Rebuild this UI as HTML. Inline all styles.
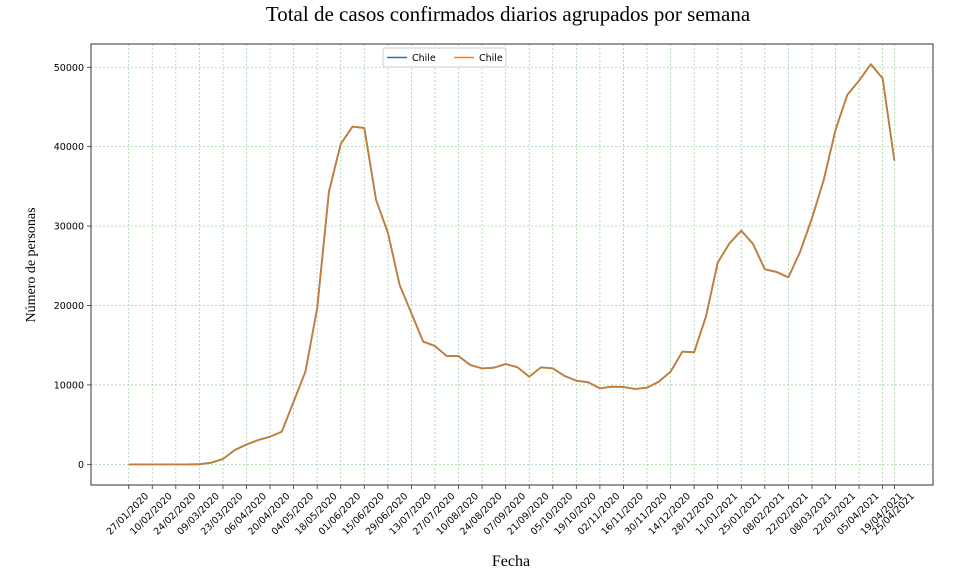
<!DOCTYPE html>
<html><head><meta charset="utf-8"><style>
body{margin:0;background:#fff;}
svg{display:block;}
</style></head><body>
<svg id="chart" width="955" height="586" xmlns="http://www.w3.org/2000/svg">
<text x="508" y="21" text-anchor="middle" font-family="Liberation Serif, serif" font-size="21">Total de casos confirmados diarios agrupados por semana</text>
<text transform="translate(35,265) rotate(-90)" text-anchor="middle" font-family="Liberation Serif, serif" font-size="14">Número de personas</text>
<text x="511" y="566" text-anchor="middle" font-family="Liberation Serif, serif" font-size="16">Fecha</text>
<g id="grid"></g>
<g id="axes"></g>
<g id="series"></g>
<rect x="91" y="44" width="842" height="441" fill="none" stroke="#333" stroke-width="1"/>
<g>
<rect x="383" y="48" width="123" height="19" fill="#fff" stroke="#ccc" rx="2"/>
<line x1="387" y1="57.5" x2="407" y2="57.5" stroke="#1f77b4" stroke-width="1.5"/>
<text x="412" y="61" font-family="DejaVu Sans, sans-serif" font-size="9.5">Chile</text>
<line x1="454" y1="57.5" x2="474" y2="57.5" stroke="#ff7f0e" stroke-width="1.5"/>
<text x="479" y="61" font-family="DejaVu Sans, sans-serif" font-size="9.5">Chile</text>
</g>
</svg>
<script>
const values = [0,0,0,0,0,0,20,200,670,1800,2500,3060,3480,4110,7900,11670,19650,34340,40340,42530,42360,33290,29180,22590,19020,15450,14900,13640,13640,12510,12090,12170,12640,12220,11040,12220,12090,11130,10540,10330,9570,9780,9740,9490,9660,10410,11670,14190,14110,18600,25400,27830,29430,27750,24560,24220,23550,26780,30980,35810,42110,46520,48320,50380,48610,38240];
const tickLabels = ["27/01/2020","10/02/2020","24/02/2020","09/03/2020","23/03/2020","06/04/2020","20/04/2020","04/05/2020","18/05/2020","01/06/2020","15/06/2020","29/06/2020","13/07/2020","27/07/2020","10/08/2020","24/08/2020","07/09/2020","21/09/2020","05/10/2020","19/10/2020","02/11/2020","16/11/2020","30/11/2020","14/12/2020","28/12/2020","11/01/2021","25/01/2021","08/02/2021","22/02/2021","08/03/2021","22/03/2021","05/04/2021","19/04/2021","25/04/2021"];
const yTicks = [0,10000,20000,30000,40000,50000];
const NS="http://www.w3.org/2000/svg";
const x0=128.7, step=11.78;
function xs(i){return x0+step*i;}
const yMin=-2600, yMax=52930, yTop=44, yBot=485;
function ys(v){return yBot-(v-yMin)/(yMax-yMin)*(yBot-yTop);}
const grid=document.getElementById('grid'), axes=document.getElementById('axes'), series=document.getElementById('series');
function mk(tag,attrs,parent){const e=document.createElementNS(NS,tag);for(const k in attrs)e.setAttribute(k,attrs[k]);parent.appendChild(e);return e;}
const tickIdx=[];
for(let i=0;i<values.length;i+=2)tickIdx.push(i);
if(tickIdx[tickIdx.length-1]!==values.length-1)tickIdx.push(values.length-1);
tickIdx.forEach((idx,k)=>{
  const x=xs(idx);
  const g=mk('line',{x1:x,x2:x,y1:yTop,y2:yBot,stroke:'#9fd49f','stroke-width':0.8,'stroke-dasharray':'2,2'},grid);
  
  
  const t=mk('line',{x1:x,x2:x,y1:yBot,y2:yBot+4,stroke:'#333','stroke-width':0.8},axes);
  
  
  const lbl=mk('text',{transform:`translate(${x+1},${yBot+31}) rotate(-45)`,'text-anchor':'middle','font-family':'DejaVu Sans, sans-serif','font-size':'9.5',fill:'#000'},axes);
  lbl.textContent=tickLabels[k]||'';
  
  
});
yTicks.forEach(v=>{
  const y=ys(v);
  const g=mk('line',{x1:91,x2:933,y1:y,y2:y,stroke:'#9fd49f','stroke-width':0.8,'stroke-dasharray':'2,2'},grid);
  
  
  const t=mk('line',{x1:87,x2:91,y1:y,y2:y,stroke:'#333','stroke-width':0.8},axes);
  
  
  const lbl=mk('text',{x:84,y:y+3.5,'text-anchor':'end','font-family':'DejaVu Sans, sans-serif','font-size':'9.5'},axes);
  lbl.textContent=String(v);
  
  
});
const d=values.map((v,i)=>(i?'L':'M')+xs(i).toFixed(2)+','+ys(v).toFixed(2)).join(' ');
const l1=mk('path',{d:d,fill:'none',stroke:'#1f77b4','stroke-width':1.8,'stroke-linejoin':'round'},series);


const l2=mk('path',{d:d,fill:'none',stroke:'#ff7f0e','stroke-opacity':0.75,'stroke-width':1.8,'stroke-linejoin':'round'},series);


</script>
</body></html>
